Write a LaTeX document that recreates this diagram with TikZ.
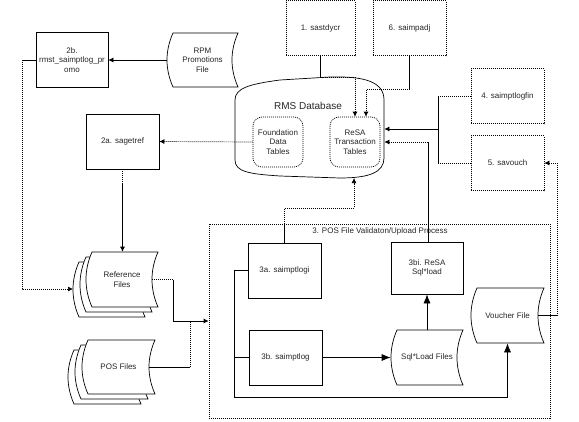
\documentclass[tikz,border=0pt]{standalone}
\usepackage{fontspec}
\setmainfont{Liberation Sans}
\usetikzlibrary{arrows.meta}
\newcommand\sdshape[5][]{\draw[#1] (#2+6,#3) -- (#4,#3) .. controls (#4-8,#3+18) and (#4-8,#5-18) .. (#4,#5) -- (#2+6,#5) .. controls (#2-2,#5-18) and (#2-2,#3+18) .. (#2+6,#3) -- cycle;}
\tikzset{
  lw/.style={line width=0.7pt},
  dl/.style={dash pattern=on 1pt off 1pt},
  txt/.style={font=\fontsize{8}{9.5}\selectfont, text=black!85, align=center, inner sep=0pt},
  box/.style={txt, draw, lw, minimum width=#1, minimum height=55pt},
  boxd/.style={box=#1, dl},
  hid/.style={txt, minimum width=72pt, minimum height=55pt},
  arr/.style={-{Latex[length=5pt,width=5pt]}},
  arrbig/.style={-{Latex[length=9pt,width=7pt]}},
}
\begin{document}
\begin{tikzpicture}[x=1pt,y=-1pt,lw]
\useasboundingbox (0,0) rectangle (579,421);
% top boxes
\node[boxd=69pt] (s1) at (320.5,28) {1. sastdycr};
\node[boxd=73pt] (s6) at (409.5,28) {6. saimpadj};
\node[boxd=73pt] (s4) at (507.5,96) {4. saimptlogfin};
\node[boxd=73pt] (s5) at (507.5,163) {5. savouch};
\node[box=72pt] (b2) at (72,60) {2b.\\rmst\_saimptlog\_pr\\omo};
\node[box=73pt] (a2) at (122.5,141.5) {2a. sagetref};
% RPM file
\sdshape{167}{33}{238}{87}
\node[hid, minimum width=71pt] (rpm) at (202.5,60) {RPM\\Promotions\\File};
% RMS database
\draw (235,100) .. controls (235,88) and (250,84) .. (280,80) -- (330,77) .. controls (365,76) and (384,82) .. (384,100)
  -- (384,158) .. controls (384,172) and (370,178) .. (340,178) -- (280,176) .. controls (250,174) and (235,172) .. (235,160) -- cycle;
\node[txt, minimum width=149pt, minimum height=100pt] (db) at (309.5,128) {};
\node[txt, font=\fontsize{10}{12}\selectfont] (dbl) at (308,106) {RMS Database};
\node[txt, draw, dl, rounded corners=9pt, minimum width=50pt, minimum height=50pt] (fdt) at (278,142) {Foundation\\Data\\Tables};
\node[txt, draw, dl, rounded corners=9pt, minimum width=50pt, minimum height=50pt] (resa) at (355,142) {ReSA\\Transaction\\Tables};
% reference files stack
\sdshape[fill=white]{73}{262}{145}{317}
\sdshape[fill=white]{80}{257}{152}{312}
\sdshape[fill=white]{86}{252}{158}{307}
\node[hid] (ref) at (122,279.5) {Reference\\Files};
\coordinate (refback) at (73,289);
% POS files stack
\sdshape[fill=white]{68}{350}{141}{404}
\sdshape[fill=white]{75}{345}{148}{399}
\sdshape[fill=white]{82}{340}{155}{394}
\node[hid, minimum width=73pt, minimum height=54pt] (pos) at (118.5,367) {POS Files};
% process box
\node[draw, dl, minimum width=341pt, minimum height=194pt, inner sep=0pt] (proc) at (379.5,321) {};
\node[txt] (ptitle) at (380,231) {3. POS File Validaton/Upload Process};
\node[box=73pt] (a3) at (284.5,270.5) {3a. saimptlogi};
\node[box=73pt] (b3) at (285.5,357.5) {3b. saimptlog};
\node[box=72pt, minimum height=52pt] (bi) at (427,268) {3bi. ReSA\\Sql*load};
\sdshape{391}{330}{463}{385}
\node[hid] (sql) at (427,357.5) {Sql*Load Files};
\sdshape{471}{288}{544}{343}
\node[hid, minimum width=73pt] (vf) at (507.5,315.5) {Voucher File};
% connectors
\draw[arr] (rpm.west) -- (b2.east);
\coordinate (c2b) at (22,60);
\draw (b2.west) -- (c2b);
\draw[dl,arr] (c2b) |- (refback);
\draw[dl,arr] (fdt.west) -- (a2.east);
\coordinate (c2a) at (122.5,183);
\draw[dl] (a2.south) -- (c2a);
\draw[arr] (c2a) -- (c2a |- ref.north);
\coordinate (c1) at (320.5,77);
\draw (s1.south) -- (c1);
\draw[dl,arr] (c1) -| (resa.north);
\coordinate (c6) at (409.5,89);
\draw (s6.south) -- (c6);
\draw[dl,arr] (c6) -| ([xshift=11pt]resa.north);
\coordinate (j4) at (438,96);
\coordinate (j5) at (438,163);
\coordinate (j45) at (438,129);
\draw[dl] (s4.west) -- (j4);
\draw[dl] (s5.west) -- (j5);
\draw (j4) -- (j5);
\draw[arr] (j45) -- (j45 -| db.east);
\coordinate (cbi) at (428,142);
\draw (bi.north -| cbi) -- (cbi);
\draw[dl,arr] (cbi) -- (cbi -| db.east);
\coordinate (vr) at (557,315.5);
\draw ([xshift=-6pt]vf.east) -- (vr);
\draw[dl,arr] (vr) |- (s5.east);
\coordinate (c3a) at (a3.north |- proc.north);
\draw (a3.north) -- (c3a);
\draw[dl,arr] (c3a) -- (284.5,208) -| (354,178);
\coordinate (cr) at (173,279.5);
\draw[dl] ([xshift=-6pt]ref.east) -- (cr);
\draw[arr] (cr) |- (proc.west);
\coordinate (cp) at (190,367);
\draw ([xshift=-6pt]pos.east) -- (cp);
\draw[dl] (cp) -- (cp |- proc.west);
\coordinate (jl) at (234,397);
\draw[arrbig] (a3.west) -| (jl) -| (vf.south);
\draw (b3.west) -- (b3.west -| jl);
\draw[arrbig] (b3.east) -- (sql.west);
\draw[arrbig] (sql.north) -- (bi.south);
\end{tikzpicture}
\end{document}
